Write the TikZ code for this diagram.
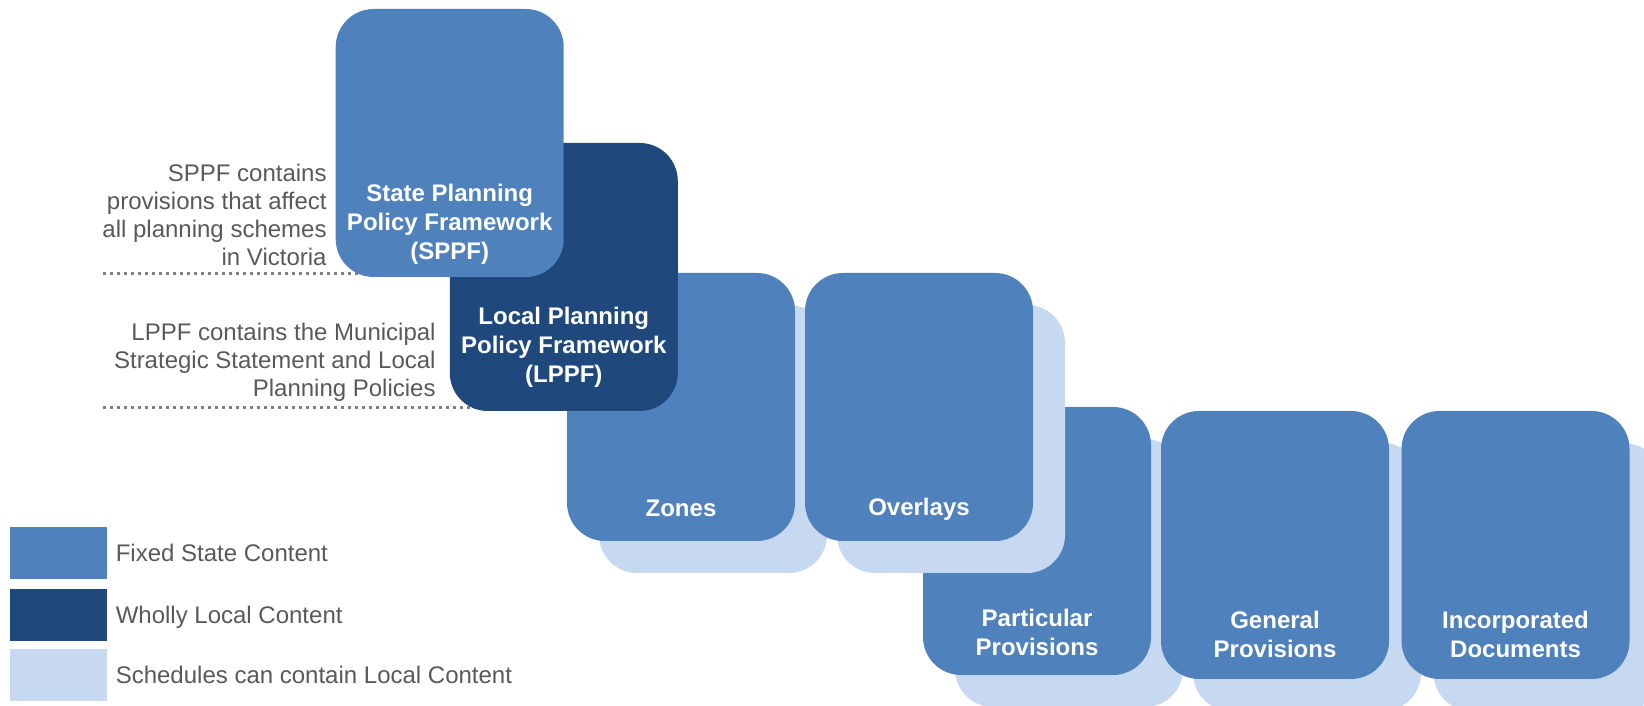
\documentclass[tikz,border=0pt]{standalone}
\usepackage{fontspec}
\setmainfont{Liberation Sans}
\usepackage{xcolor}
\definecolor{FIXEDCOLOR}{HTML}{4F81BD}
\definecolor{LOCALCOLOR}{HTML}{1F497D}
\definecolor{SCHEDCOLOR}{HTML}{C6D9F1}
\colorlet{NOTECOLOR}{black!65}
\colorlet{RULECOLOR}{black!50}
\usepackage{tikz}
\usetikzlibrary{positioning,backgrounds}
\tikzset{
  block-style/.style = {
    rectangle, rounded corners=19pt,
    fill=#1,
    minimum width=114pt,
    minimum height=134pt,
    inner sep=0pt
  },
  shadow-style/.style = {
    block-style=SCHEDCOLOR
  },
  title-style/.style = {
    text=white, align=center, inner sep=0pt,
    font=\bfseries\fontsize{12}{14.5}\selectfont
  },
  note-style/.style = {
    text=NOTECOLOR, align=right, inner sep=0pt, anchor=east,
    font=\fontsize{12}{14}\selectfont
  },
  swatch-style/.style = {
    rectangle, fill=#1, inner sep=0pt,
    minimum width=48.5pt,
    minimum height=26pt
  },
  legend-style/.style = {
    text=NOTECOLOR, inner sep=0pt, anchor=west,
    text height=8.6pt, text depth=0pt,
    font=\fontsize{12}{14}\selectfont
  },
  rule-style/.style = {
    draw=RULECOLOR, line width=1.5pt,
    dash pattern=on 1.5pt off 2pt
  }
}
% a policy box with its title sitting low in the box
\def\createPolicy name:#1 display:#2 color:#3 at:#4 lift:#5;{
  \node [block-style=#3] (#1) at (#4) {};
  \node [title-style] (#1-title) at ([yshift=-#5]#1.center) {#2};
}
% a state box with the light schedule box peeking out behind it
\def\createBlock name:#1 display:#2 at:#3 lift:#4;{
  \node [shadow-style, xshift=16pt, yshift=-16pt] (#1-shadow) at (#3) {};
  \createPolicy name:#1 display:{#2} color:FIXEDCOLOR at:{#3} lift:#4;
}

\begin{document}
\begin{tikzpicture}[x=0.5pt, y=0.5pt]
  \useasboundingbox (0,0) rectangle (1644,706);

  % bottom row first, the row above overlaps it
  \createBlock name:particular display:{Particular\\Provisions} at:{1037,165} lift:45.5pt;
  \createBlock name:general display:{General\\Provisions} at:{1275,161} lift:44.5pt;
  \createBlock name:incorporated display:{Incorporated\\Documents} at:{1515.5,161} lift:44.5pt;

  \createBlock name:zones display:{Zones} at:{681,299} lift:50.5pt;
  \createBlock name:overlays display:{Overlays} at:{919,299} lift:51pt;

  \createPolicy name:lppf display:{Local Planning\\Policy Framework\\(LPPF)} color:LOCALCOLOR at:{563.8,429} lift:35pt;
  \createPolicy name:sppf display:{State Planning\\Policy Framework\\(SPPF)} color:FIXEDCOLOR at:{449.7,563} lift:40.5pt;

  % notes on the left, each closed by a dotted rule
  \node [note-style] (sppf-note) at (327,491.5)
    {SPPF contains\\provisions that affect\\all planning schemes\\in Victoria};
  \node [note-style] (lppf-note) at (436,344)
    {LPPF contains the Municipal\\Strategic Statement and Local\\Planning Policies};

  \coordinate (sppf-rule) at (103,432);
  \coordinate (lppf-rule) at (103,298);
  \begin{pgfonlayer}{background}
    \draw [rule-style] (sppf-rule) -- (sppf-rule -| sppf.center);
    \draw [rule-style] (lppf-rule) -- (lppf-rule -| lppf.center);
  \end{pgfonlayer}

  % legend
  \node [swatch-style=FIXEDCOLOR] (fixed) at (58.5,152.85) {};
  \node [swatch-style=LOCALCOLOR, below=4.5pt of fixed] (local) {};
  \node [swatch-style=SCHEDCOLOR, below=3.5pt of local] (sched) {};
  \node [legend-style, right=4pt of fixed] (fixed-text) {Fixed State Content};
  \node [legend-style, right=4pt of local] (local-text) {Wholly Local Content};
  \node [legend-style, right=4pt of sched] (sched-text) {Schedules can contain Local Content};
\end{tikzpicture}
\end{document}
